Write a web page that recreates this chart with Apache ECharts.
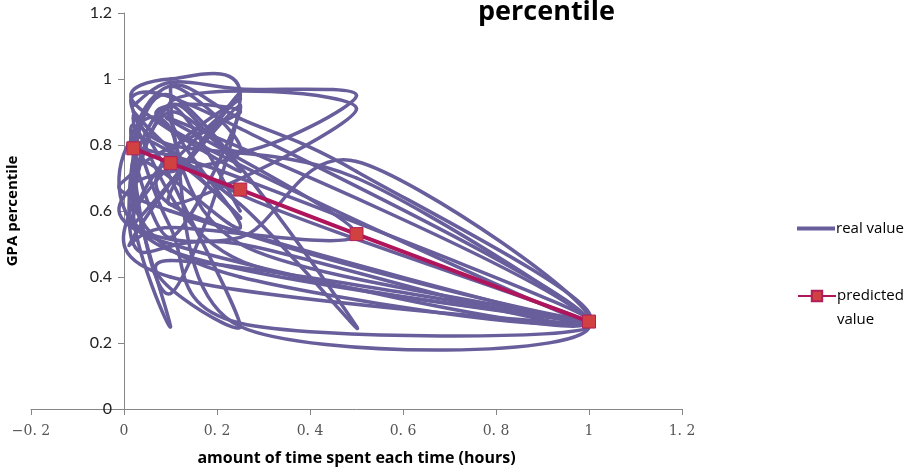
<!DOCTYPE html>
<html>
<head>
<meta charset="utf-8">
<script src="https://cdn.jsdelivr.net/npm/echarts@6/dist/echarts.min.js"></script>
<style>
  html, body { margin: 0; padding: 0; background: #fff; }
  #chart { width: 912px; height: 473px; }
</style>
</head>
<body>
<div id="chart"></div>
<script>
// real value: time spent (hours) and GPA percentile, in recorded order
var realTime = [0.02, 0.1, 0.25, 0.5, 0.25, 0.1, 0.02, 0.1, 0.02, 0.25,
                0.1, 0.5, 0.1, 0.25, 0.02, 0.1, 0.5, 0.1, 1, 0.25,
                0.1, 0.02, 0.25, 1, 0.1, 0.25, 0.02, 0.25, 0.5, 1,
                0.25, 0.02, 0.1, 0.5, 0.25, 0.02, 0.1, 1, 0.1, 0.25,
                0.1, 0.02, 0.25, 1, 0.1, 0.02, 0.25, 0.1, 0.25, 1,
                0.25, 0.1, 0.02, 0.1, 0.5, 1, 0.1, 0.25, 0.02, 0.1,
                1, 0.25, 0.02, 0.25, 0.1, 0.02, 0.25, 0.1, 0.02, 0.25,
                1, 0.1, 0.02, 0.1, 0.25, 0.02, 0.1, 0.25, 0.1, 0.02,
                0.1, 0.25, 0.5, 1, 0.25, 0.02, 0.1, 0.25];
var realGpa  = [0.92, 0.99, 0.97, 0.95, 0.78, 0.92, 0.60, 0.25, 0.75, 0.55,
                0.93, 0.91, 0.62, 0.96, 0.52, 0.55, 0.53, 0.88, 0.26, 0.25,
                0.85, 0.80, 0.70, 0.27, 0.62, 0.94, 0.58, 0.52, 0.75, 0.26,
                0.50, 0.50, 0.95, 0.25, 0.62, 0.82, 0.48, 0.26, 0.45, 0.25,
                0.70, 0.95, 0.85, 0.26, 0.50, 0.68, 0.78, 0.97, 0.50, 0.25,
                0.26, 0.55, 0.88, 0.80, 0.70, 0.26, 0.85, 0.90, 0.72, 0.60,
                0.26, 0.65, 0.90, 0.58, 0.75, 0.56, 0.92, 0.52, 0.86, 0.45,
                0.26, 0.40, 0.65, 0.90, 0.72, 0.93, 1.00, 0.95, 0.35, 0.78,
                0.98, 0.88, 0.72, 0.27, 0.40, 0.62, 0.92, 0.60];

// predicted value
var predTime = [0.02, 0.1, 0.25, 0.5, 1];
var predGpa  = [0.79, 0.745, 0.665, 0.53, 0.265];

var xTicks = { min: -0.2, max: 1.2, step: 0.2 };
var yTicks = { min: 0, max: 1.2, step: 0.2 };

var realColor = '#685E9B';

function zip(a, b) {
  return a.map(function (v, i) { return [v, b[i]]; });
}

function xLabel(v) {
  var s = (Math.round(v * 10) / 10).toString();
  return s.replace('.', '. ').replace('-', '\u2212');
}

// spreadsheet style smoothed line: one bezier piece per data item,
// control points from the neighbours (catmull-rom, 1/6)
function renderSmoothPiece(params, api) {
  var n = realTime.length;
  var i = params.dataIndex;
  if (i >= n - 1) return null;
  var pt = function (k) {
    k = Math.max(0, Math.min(n - 1, k));
    return api.coord([realTime[k], realGpa[k]]);
  };
  var p0 = pt(i - 1), p1 = pt(i), p2 = pt(i + 1), p3 = pt(i + 2);
  return {
    type: 'bezierCurve',
    shape: {
      x1: p1[0], y1: p1[1],
      x2: p2[0], y2: p2[1],
      cpx1: p1[0] + (p2[0] - p0[0]) / 6,
      cpy1: p1[1] + (p2[1] - p0[1]) / 6,
      cpx2: p2[0] - (p3[0] - p1[0]) / 6,
      cpy2: p2[1] - (p3[1] - p1[1]) / 6
    },
    style: { stroke: realColor, lineWidth: 3.5, fill: null, lineCap: 'round' }
  };
}

var myChart = echarts.init(document.getElementById('chart'));

var option = {
  backgroundColor: '#fff',
  animation: false,
  title: {
    text: 'percentile',
    left: 473,
    top: -6,
    textStyle: {
      fontFamily: 'Open Sans',
      fontWeight: 'bold',
      fontSize: 27,
      color: '#000'
    }
  },
  legend: [{
    data: [{ name: 'real value', icon: 'path://M0,0L38,0L38,4L0,4Z' }],
    orient: 'vertical',
    left: 797,
    top: 221,
    padding: 0,
    itemWidth: 38,
    itemHeight: 4,
    itemGap: 0,
    textStyle: { fontFamily: 'Open Sans', fontSize: 15, color: '#000', padding: [0, 0, 0, -4] }
  }, {
    data: ['predicted value'],
    orient: 'vertical',
    left: 797,
    top: 260,
    padding: 0,
    itemWidth: 38,
    itemHeight: 13,
    itemGap: 0,
    formatter: function () { return ' \npredicted\nvalue'; },
    textStyle: { fontFamily: 'Open Sans', fontSize: 15, lineHeight: 24, color: '#000', padding: [0, 0, 0, -4] }
  }],
  grid: { left: 31, right: 230, top: 13, bottom: 64, containLabel: false, outerBoundsMode: 'none' },
  xAxis: {
    type: 'value',
    min: xTicks.min,
    max: xTicks.max,
    interval: xTicks.step,
    name: 'amount of time spent each time (hours)',
    nameLocation: 'middle',
    nameGap: 41,
    nameTextStyle: { fontFamily: 'Open Sans', fontWeight: 'bold', fontSize: 16, color: '#000' },
    axisLine: { onZero: true, lineStyle: { color: '#868686', width: 1 } },
    axisTick: { show: true, length: 6, lineStyle: { color: '#868686' } },
    axisLabel: {
      margin: 15,
      fontFamily: 'DejaVu Serif',
      fontSize: 14,
      color: '#555',
      formatter: xLabel
    },
    splitLine: { show: false }
  },
  yAxis: {
    type: 'value',
    min: yTicks.min,
    max: yTicks.max,
    interval: yTicks.step,
    // sits on x = 0: 0.2 of a 1.4 wide axis over 651 px
    offset: -93,
    name: 'GPA percentile',
    nameLocation: 'middle',
    nameGap: 104,
    nameTextStyle: { fontFamily: 'Open Sans', fontWeight: 'bold', fontSize: 15, color: '#000' },
    axisLine: { onZero: false, lineStyle: { color: '#868686', width: 1 } },
    axisTick: { show: true, length: 6, lineStyle: { color: '#868686' } },
    axisLabel: {
      margin: 12,
      fontFamily: 'Lato',
      fontSize: 16,
      color: '#222'
    },
    splitLine: { show: false }
  },
  series: [
    {
      name: 'real value',
      type: 'custom',
      data: zip(realTime, realGpa),
      encode: { x: 0, y: 1 },
      renderItem: renderSmoothPiece,
      itemStyle: { color: realColor },
      z: 2
    },
    {
      name: 'predicted value',
      type: 'line',
      data: zip(predTime, predGpa),
      symbol: 'rect',
      symbolSize: 13,
      lineStyle: { color: '#B0155C', width: 4 },
      itemStyle: { color: '#D24141', borderColor: '#B0205A', borderWidth: 1 },
      z: 3
    }
  ]
};

if (option && typeof option === 'object') {
  myChart.setOption(option, true);
}
</script>
</body>
</html>
